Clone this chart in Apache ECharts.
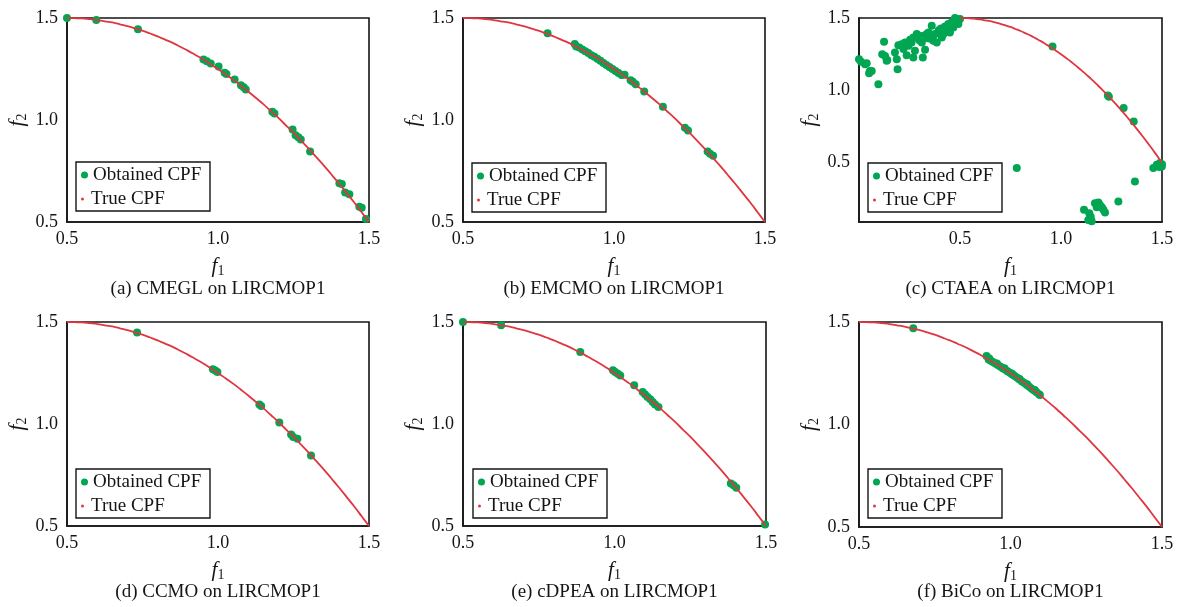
<!DOCTYPE html>
<html>
<head>
<meta charset="utf-8">
<script src="https://cdn.jsdelivr.net/npm/echarts@6/dist/echarts.min.js"></script>
<style>
  html, body { margin: 0; padding: 0; background: #fff; }
  #chart { width: 1177px; height: 607px; }
</style>
</head>
<body>
<div id="chart"></div>
<script>
// True constrained Pareto front of LIRCMOP1 (f1, f2)
const trueF1 = [0.500, 0.525, 0.550, 0.575, 0.600, 0.625, 0.650, 0.675, 0.700, 0.725, 0.750,
  0.775, 0.800, 0.825, 0.850, 0.875, 0.900, 0.925, 0.950, 0.975, 1.000, 1.025, 1.050, 1.075,
  1.100, 1.125, 1.150, 1.175, 1.200, 1.225, 1.250, 1.275, 1.300, 1.325, 1.350, 1.375, 1.400,
  1.425, 1.450, 1.475, 1.500];
const trueF2 = [1.500, 1.499, 1.498, 1.494, 1.490, 1.484, 1.478, 1.469, 1.460, 1.449, 1.438,
  1.424, 1.410, 1.394, 1.378, 1.359, 1.340, 1.319, 1.298, 1.274, 1.250, 1.224, 1.198, 1.169,
  1.140, 1.109, 1.078, 1.044, 1.010, 0.974, 0.938, 0.899, 0.860, 0.819, 0.778, 0.734, 0.690,
  0.644, 0.598, 0.549, 0.500];

// Obtained fronts of each algorithm
const cmeglF1 = [0.500, 0.597, 0.735, 0.952, 0.963, 0.976, 1.002, 1.022, 1.028, 1.055, 1.076,
  1.085, 1.092, 1.180, 1.187, 1.247, 1.257, 1.266, 1.274, 1.305, 1.402, 1.410, 1.421, 1.435,
  1.468, 1.476, 1.490];
const cmeglF2 = [1.500, 1.490, 1.445, 1.296, 1.288, 1.277, 1.262, 1.232, 1.225, 1.198, 1.170,
  1.160, 1.150, 1.040, 1.032, 0.953, 0.925, 0.915, 0.905, 0.846, 0.690, 0.686, 0.645, 0.636,
  0.575, 0.570, 0.515];

const emcmoF1 = [0.780, 0.870, 0.875, 0.885, 0.895, 0.905, 0.915, 0.925, 0.935, 0.945, 0.955,
  0.965, 0.975, 0.985, 0.995, 1.005, 1.015, 1.025, 1.035, 1.055, 1.062, 1.072, 1.100, 1.162,
  1.235, 1.245, 1.310, 1.318, 1.328];
const emcmoF2 = [1.425, 1.372, 1.360, 1.355, 1.345, 1.337, 1.328, 1.318, 1.310, 1.300, 1.290,
  1.280, 1.270, 1.260, 1.250, 1.240, 1.230, 1.220, 1.222, 1.195, 1.188, 1.175, 1.140, 1.065,
  0.962, 0.948, 0.845, 0.835, 0.825];

const ctaeaF1 = [0.000, 0.010, 0.038, 0.030, 0.054, 0.050, 0.063, 0.096, 0.124, 0.115, 0.129,
  0.137, 0.140, 0.191, 0.187, 0.178, 0.195, 0.211, 0.236, 0.228, 0.245, 0.220, 0.253, 0.269,
  0.277, 0.269, 0.286, 0.294, 0.311, 0.316, 0.319, 0.327, 0.335, 0.344, 0.352, 0.360, 0.368,
  0.377, 0.385, 0.393, 0.401, 0.406, 0.410, 0.418, 0.426, 0.434, 0.442, 0.450, 0.459, 0.467,
  0.475, 0.484, 0.492, 0.500, 0.480, 0.460, 0.420, 0.300, 0.260, 0.310, 0.340, 0.365, 0.395,
  0.440, 0.470, 0.490,
  0.958, 1.232, 1.237, 1.310, 1.360, 0.781, 1.366, 1.284, 1.457, 1.474, 1.490, 1.499, 1.487,
  1.500, 1.114, 1.140, 1.147, 1.135, 1.152, 1.145, 1.168, 1.185, 1.177, 1.202, 1.210, 1.218,
  1.193];
const ctaeaF2 = [1.215, 1.197, 1.187, 1.180, 1.134, 1.118, 1.134, 1.042, 1.335, 1.250, 1.238,
  1.204, 1.210, 1.146, 1.215, 1.262, 1.312, 1.319, 1.243, 1.331, 1.308, 1.285, 1.349, 1.366,
  1.273, 1.227, 1.389, 1.359, 1.331, 1.227, 1.366, 1.280, 1.389, 1.400, 1.359, 1.447, 1.343,
  1.389, 1.331, 1.400, 1.400, 1.428, 1.366, 1.389, 1.442, 1.412, 1.458, 1.400, 1.470, 1.435,
  1.500, 1.481, 1.458, 1.493, 1.470, 1.445, 1.420, 1.345, 1.330, 1.375, 1.360, 1.375, 1.415,
  1.430, 1.480, 1.490,
  1.303, 0.965, 0.955, 0.878, 0.785, 0.463, 0.370, 0.231, 0.463, 0.486, 0.498, 0.474, 0.470,
  0.490, 0.174, 0.151, 0.127, 0.104, 0.095, 0.115, 0.220, 0.224, 0.192, 0.192, 0.174, 0.155,
  0.208];

const ccmoF1 = [0.732, 0.983, 0.991, 0.998, 1.137, 1.143, 1.203, 1.242, 1.249, 1.263, 1.308];
const ccmoF2 = [1.448, 1.268, 1.262, 1.255, 1.095, 1.088, 1.007, 0.948, 0.936, 0.928, 0.846];

const cdpeaF1 = [0.500, 0.626, 0.887, 0.995, 1.002, 1.011, 1.019, 1.065, 1.093, 1.101, 1.109,
  1.118, 1.126, 1.134, 1.145, 1.384, 1.393, 1.402, 1.497];
const cdpeaF2 = [1.500, 1.484, 1.353, 1.263, 1.255, 1.246, 1.238, 1.190, 1.157, 1.144, 1.132,
  1.121, 1.108, 1.095, 1.083, 0.708, 0.700, 0.688, 0.507];

const bicoF1 = [0.679, 0.921, 0.928, 0.935, 0.942, 0.950, 0.958, 0.966, 0.974, 0.982, 0.990,
  0.998, 1.006, 1.014, 1.022, 1.030, 1.038, 1.046, 1.054, 1.062, 1.070, 1.078, 1.086, 1.094,
  1.097, 0.930, 0.955, 0.980, 1.005, 1.030, 1.055, 1.080];
const bicoF2 = [1.470, 1.334, 1.317, 1.311, 1.305, 1.297, 1.290, 1.283, 1.275, 1.268, 1.260,
  1.252, 1.244, 1.236, 1.228, 1.219, 1.210, 1.202, 1.193, 1.184, 1.175, 1.166, 1.157, 1.147,
  1.144, 1.322, 1.298, 1.274, 1.248, 1.222, 1.196, 1.168];

const panelTitles = ['(a) CMEGL on LIRCMOP1', '(b) EMCMO on LIRCMOP1', '(c) CTAEA on LIRCMOP1',
  '(d) CCMO on LIRCMOP1', '(e) cDPEA on LIRCMOP1', '(f) BiCo on LIRCMOP1'];
const tickValues = [0.5, 1.0, 1.5];
const legendNames = ['Obtained CPF', 'True CPF'];

const obtained = [
  [cmeglF1, cmeglF2], [emcmoF1, emcmoF2], [ctaeaF1, ctaeaF2],
  [ccmoF1, ccmoF2], [cdpeaF1, cdpeaF2], [bicoF1, bicoF2]
];

// axis ranges per panel
const xRanges = [[0.5, 1.5], [0.5, 1.5], [0, 1.5], [0.5, 1.5], [0.5, 1.5], [0.5, 1.5]];
const yRanges = [[0.5, 1.5], [0.5, 1.5], [0.09, 1.5], [0.5, 1.5], [0.5, 1.5], [0.5, 1.5]];

// plot rectangles (px)
const layout = [
  { left: 67, top: 18, width: 302, height: 204, captionY: 289, box: [76, 162] },
  { left: 463, top: 18, width: 302, height: 204, captionY: 289, box: [472, 163] },
  { left: 859, top: 18, width: 303, height: 204, captionY: 289, box: [868, 163] },
  { left: 67, top: 322, width: 302, height: 204, captionY: 592, box: [76, 469] },
  { left: 463, top: 322, width: 303, height: 204, captionY: 592, box: [473, 469] },
  { left: 859, top: 322, width: 303, height: 205, captionY: 592, box: [868, 469] }
];

const FONT = 'Liberation Serif';
const INK = '#151515';
const GREEN = '#00a651';
const RED = '#e0363f';

const cpfPoints = trueF1.map((x, k) => [x, trueF2[k]]);

function axisName(sub) {
  return {
    name: '{i|f}{s|' + sub + '}',
    nameLocation: 'middle',
    nameTextStyle: {
      rich: {
        i: { fontFamily: FONT, fontStyle: 'italic', fontSize: 21, color: INK },
        s: { fontFamily: FONT, fontSize: 14, color: INK, padding: [10, 0, 0, 0] }
      }
    }
  };
}

const fmt = v => (v === 0 ? '' : v.toFixed(1));

const option = {
  animation: false,
  backgroundColor: '#fff',
  grid: [], xAxis: [], yAxis: [], series: [], legend: [], graphic: []
};

layout.forEach((p, i) => {
  option.grid.push({
    left: p.left, top: p.top, width: p.width, height: p.height,
    show: true, borderColor: INK, borderWidth: 1.6, backgroundColor: 'transparent'
  });
  const xr = xRanges[i], yr = yRanges[i];
  option.xAxis.push(Object.assign({
    type: 'value', gridIndex: i, min: xr[0], max: xr[1], interval: 0.5,
    nameGap: 32,
    axisLine: { show: true, onZero: false, lineStyle: { color: INK, width: 1.6 } },
    axisTick: { show: false },
    splitLine: { show: false },
    axisLabel: { color: INK, fontFamily: FONT, fontSize: 18, margin: 8, formatter: fmt }
  }, axisName('1')));
  const yAxis = Object.assign({
    type: 'value', gridIndex: i, min: yr[0], max: yr[1],
    nameGap: 38,
    axisLine: { show: true, onZero: false, lineStyle: { color: INK, width: 1.6 } },
    axisTick: { show: false },
    splitLine: { show: false },
    axisLabel: { color: INK, fontFamily: FONT, fontSize: 18, margin: 9, formatter: fmt }
  }, axisName('2'));
  if (yr[0] % 0.5 === 0) {
    yAxis.interval = 0.5;
  } else {
    yAxis.axisLabel.customValues = tickValues;
    yAxis.axisTick.customValues = tickValues;
  }
  option.yAxis.push(yAxis);

  const [f1, f2] = obtained[i];
  option.series.push({
    name: legendNames[0], type: 'scatter', xAxisIndex: i, yAxisIndex: i,
    symbol: 'circle', symbolSize: 8, clip: false, z: 2,
    itemStyle: { color: GREEN, opacity: 1 },
    data: f1.map((x, k) => [x, f2[k]])
  });
  option.series.push({
    name: legendNames[1], type: 'line', xAxisIndex: i, yAxisIndex: i,
    smooth: 0.3, showSymbol: false, symbol: 'none', z: 3,
    itemStyle: { color: RED },
    lineStyle: { color: RED, width: 1.8 },
    data: cpfPoints
  });

  const [bx, by] = p.box;
  option.graphic.push({
    type: 'rect', z: 4,
    shape: { x: bx, y: by, width: 134, height: 49 },
    style: { fill: '#fff', stroke: INK, lineWidth: 1.4 }
  });
  const legendBase = {
    orient: 'vertical', padding: 0, selectedMode: false, z: 5,
    itemWidth: 7, itemGap: 0, symbolKeepAspect: true,
    itemStyle: { borderWidth: 0 },
    textStyle: { fontFamily: FONT, fontSize: 19, color: INK, lineHeight: 20, padding: [0, 0, 0, 0] }
  };
  option.legend.push(Object.assign({}, legendBase, {
    left: bx + 5, top: by + 3, itemHeight: 7,
    data: [{ name: legendNames[0], icon: 'circle' }]
  }));
  option.legend.push(Object.assign({}, legendBase, {
    left: bx + 5, top: by + 27, itemHeight: 3,
    data: [{ name: legendNames[1], icon: 'circle' }]
  }));

  option.graphic.push({
    type: 'text', z: 5,
    x: p.left + p.width / 2, y: p.captionY,
    style: {
      text: panelTitles[i], font: '19px "' + FONT + '"', fill: INK,
      align: 'center', verticalAlign: 'middle',
      textAlign: 'center', textVerticalAlign: 'middle'
    }
  });
});

const chart = echarts.init(document.getElementById('chart'), null, { renderer: 'canvas' });
chart.setOption(option);
</script>
</body>
</html>
